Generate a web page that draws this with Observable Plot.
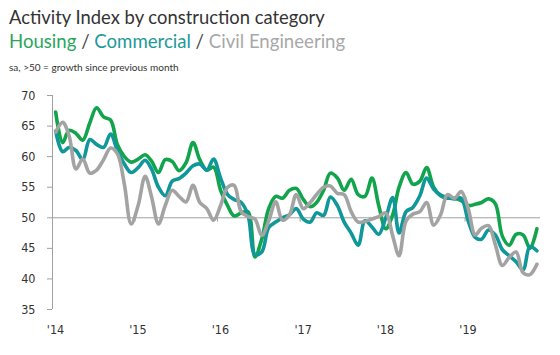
<!DOCTYPE html>
<html><head><meta charset="utf-8">
<script src="https://cdn.jsdelivr.net/npm/d3@7"></script>
<script src="https://cdn.jsdelivr.net/npm/@observablehq/plot@0.6"></script>
<style>
body{margin:0;background:#fff;font-family:Lato,"Open Sans",sans-serif;}
#head{height:80px;position:relative;width:560px;}
#head div{position:absolute;left:9px;white-space:nowrap;}
</style></head><body>
<div id="head">
<div style="top:6px;font-size:18.4px;line-height:22px;color:#333">Activity Index by construction category</div>
<div style="top:30px;font-size:18.6px;line-height:23px;"><span style="color:#2aa65c">Housing</span><span style="color:#444"> / </span><span style="color:#1b9a98">Commercial</span><span style="color:#444"> / </span><span style="color:#a8a8a8">Civil Engineering</span></div>
<div style="top:61px;font-size:10px;line-height:12px;color:#333">sa, &gt;50 = growth since previous month</div>
</div>
<div id="chart"></div>
<script>
const startMonth = "2014-01";
const yearTicks = [2014, 2015, 2016, 2017, 2018, 2019];
const yTicks = [35, 40, 45, 50, 55, 60, 65, 70];
const seriesNames = ["Housing", "Commercial", "Civil Engineering"];
const housing = [67.3,62.3,64.3,63.8,62.7,65.5,68.0,66.5,66.0,62.0,60.0,59.1,
 59.6,60.3,59.3,57.4,59.5,59.2,57.7,59.0,62.3,59.5,57.8,58.3,
 54.5,52.0,50.3,50.8,51.0,43.6,46.5,51.5,53.5,53.2,54.5,54.8,
 53.0,51.8,52.5,54.5,57.3,56.5,54.5,56.3,53.8,53.5,56.5,52.0,
 48.2,50.5,55.0,57.4,55.5,56.0,58.2,55.0,53.6,53.2,53.2,52.8,
 52.0,52.2,52.5,53.1,52.3,47.0,45.5,47.3,47.2,45.0,48.2];
const commercial = [64.2,60.8,61.5,61.0,59.5,62.8,62.0,61.5,63.7,61.0,58.8,57.4,
 58.2,59.4,58.0,55.0,53.6,56.0,56.4,57.3,58.5,58.8,57.8,59.6,
 56.5,53.8,53.0,52.5,50.5,44.0,44.4,48.4,49.3,50.0,50.5,51.5,
 49.8,49.3,50.8,50.4,53.4,52.0,49.3,47.5,45.5,49.5,48.5,47.3,
 50.0,53.3,47.5,51.0,51.7,53.6,56.5,54.7,53.7,53.3,53.1,53.2,
 49.5,46.8,46.5,48.0,47.2,44.8,43.8,42.8,41.5,45.3,44.6];
const civil = [64.0,65.6,63.5,58.0,59.6,57.3,57.8,59.5,61.4,60.5,55.5,49.0,
 52.0,56.8,53.5,49.0,52.0,54.5,53.5,52.6,55.3,52.5,51.5,49.6,
 52.0,55.0,55.3,51.0,50.2,49.8,47.1,49.5,52.6,49.6,50.5,53.8,
 51.5,52.5,53.8,55.0,55.2,54.0,53.8,51.0,49.3,49.4,49.8,50.2,
 50.8,47.0,43.8,49.5,50.6,51.0,52.5,48.8,50.5,53.8,53.2,54.3,
 51.5,47.2,48.3,48.7,45.6,42.2,43.5,44.4,41.0,40.7,42.4];
const colors = ["#12a44c", "#10979a", "#a3a3a3"];

const start = d3.utcParse("%Y-%m")(startMonth);
const monthDate = i => d3.utcDay.offset(d3.utcMonth.offset(start, i), 14);
const rows = [];
[housing, commercial, civil].forEach((arr, s) => arr.forEach((v, i) => rows.push({series: seriesNames[s], date: monthDate(i), value: v})));
const tickDates = yearTicks.map(y => new Date(Date.UTC(y, 0, 1)));
const xDomain = [start, d3.utcMonth.offset(start, housing.length)];

const chart = Plot.plot({
  width: 560, height: 275,
  marginLeft: 52, marginRight: 20, marginTop: 15, marginBottom: 46,
  style: {fontFamily: "'DejaVu Sans Condensed','DejaVu Sans',sans-serif", fontSize: "12.5px", background: "#fff"},
  x: {type: "utc", domain: xDomain},
  y: {domain: [35, 70]},
  color: {domain: seriesNames, range: colors},
  marks: [
    Plot.ruleY([50], {stroke: "#a0a0a0", strokeWidth: 1}),
    Plot.ruleX(tickDates, {y1: 50, y2: 49.3, stroke: "#a0a0a0"}),
    Plot.ruleX([xDomain[0]], {stroke: "#a0a0a0"}),
    Plot.axisY({ticks: yTicks, tickSize: 5, tickPadding: 12, stroke: "#a0a0a0", fill: "#333", label: null}),
    Plot.axisX({ticks: tickDates, tickSize: 0, tickPadding: 16, dx: 3, fill: "#333", label: null,
      tickFormat: d => "'" + String(d.getUTCFullYear()).slice(2)}),
    Plot.lineY(rows, {x: "date", y: "value", stroke: "series", strokeWidth: 3.6, curve: "catmull-rom"})
  ]
});
document.getElementById("chart").appendChild(chart);
</script>
</body></html>
